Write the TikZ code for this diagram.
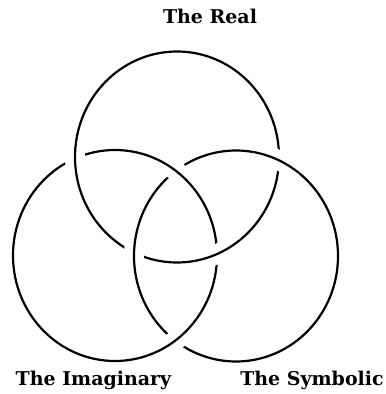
\documentclass[tikz,border=0pt]{standalone}
\usepackage{fontspec}
\setmainfont{DejaVu Serif}
\usepackage{tikz}
\usetikzlibrary{positioning}
\tikzstyle{ring} = [line width=0.055cm, draw=black]
\tikzstyle{over} = [draw=white, double=black, double distance=0.055cm, line width=0.22cm]
\tikzstyle{tag} = [anchor=base, inner sep=0pt, font=\bfseries\fontsize{13.5}{16}\selectfont]

\begin{document}
\begin{tikzpicture}[x=0.025cm, y=-0.025cm]
        \useasboundingbox (0,0) rectangle (386,394);
        \coordinate (real) at (177,157);
        \coordinate (imag) at (115,255.5);
        \coordinate (symb) at (236,256);

        % the three rings
        \foreach \c in {real, imag, symb}
            \draw [ring] (\c) ellipse [x radius=102, y radius=105.5];

        % crossings: real over imaginary, symbolic over real, imaginary over symbolic
        \foreach \c/\a in {real/177, real/66, symb/-66, symb/183, imag/-54, imag/54}
            \draw [over] (\c) ++(\a-14:102 and 105.5) arc [start angle=\a-14, end angle=\a+14, x radius=102, y radius=105.5];

        \node (real label) [tag] at (210,24) {The Real};
        \node (imag label) [tag] at (93.5,385) {The Imaginary};
        \node (symb label) [tag] at (312,385) {The Symbolic};
    \end{tikzpicture}
\end{document}
